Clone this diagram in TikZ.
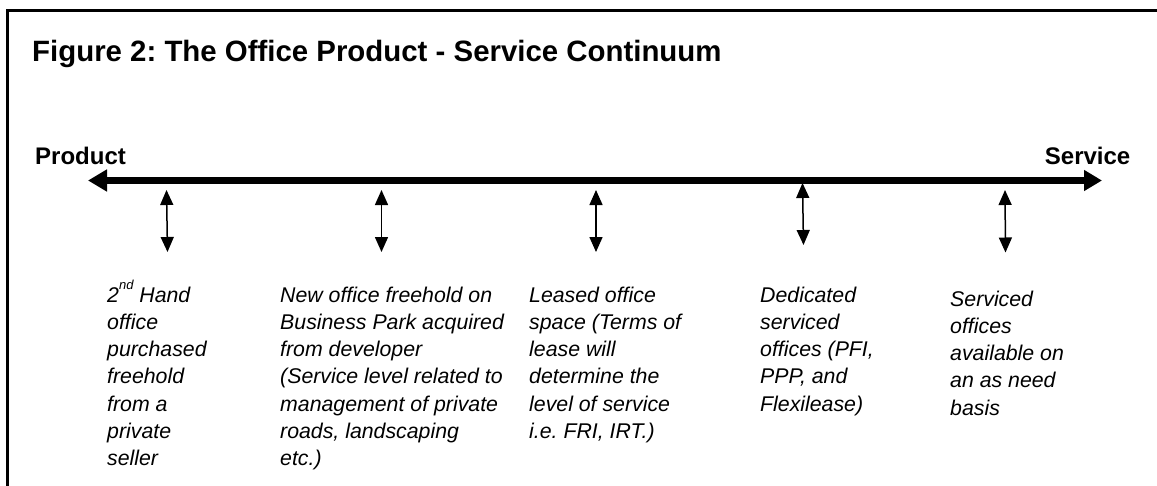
\documentclass[tikz,border=0pt]{standalone}
\usepackage{fontspec}
\setmainfont{Liberation Sans}
\usetikzlibrary{arrows.meta}
\frenchspacing
\newcommand{\stk}[1]{\begin{tabular}[t]{@{}l@{}}#1\end{tabular}}
\begin{document}
\begin{tikzpicture}[x=1pt,y=-1pt,
  frame/.style={line width=3pt,line join=miter},
  title/.style={font=\fontsize{29.4}{34}\selectfont\bfseries,inner sep=0pt,anchor=base west},
  endlabel/.style={font=\fontsize{24}{28}\selectfont\bfseries,inner sep=0pt},
  axis/.style={line width=7pt,{Triangle[length=19pt,width=21pt]}-{Triangle[length=18pt,width=20pt]}},
  link/.style={line width=1.5pt,{Triangle[length=15pt,width=13pt]}-{Triangle[length=15pt,width=13pt]}},
  desc/.style={font=\fontsize{21.3}{27.3}\selectfont\itshape,inner sep=0pt,anchor=base west}]
\useasboundingbox (0,0) rectangle (1157,485);
\fill[white] (0,0) rectangle (1157,485);
\draw[frame] (7.5,486) -- (7.5,10.7) -- (1158,10.7);
\node[title] (t) at (32,61.7) {Figure 2: The Office Product - Service Continuum};
\node[endlabel,anchor=base west] (prod) at (35,164) {Product};
\node[endlabel,anchor=base east] (serv) at (1130.5,164) {Service};
\coordinate (L) at (88,180.5);
\coordinate (R) at (1102,180.5);
\draw[axis] (L) -- (R);
\coordinate (a1) at (166.5,190); \coordinate (b1) at (167.5,252);
\coordinate (a2) at (381.5,190); \coordinate (b2) at (381.5,252);
\coordinate (a3) at (596,190);   \coordinate (b3) at (596,252);
\coordinate (a4) at (802.5,183); \coordinate (b4) at (803.5,245);
\coordinate (a5) at (1005,190);  \coordinate (b5) at (1005.5,252.5);
\foreach \i in {1,...,5} {\draw[link] (a\i) -- (b\i);}
\node[desc] (d1) at (107,302) {\stk{2\raisebox{1.1ex}{\fontsize{13}{13}\selectfont nd} Hand\\office\\purchased\\freehold\\from a\\private\\seller}};
\node[desc] (d2) at (280,302) {\stk{New office freehold on\\Business Park acquired\\from developer\\(Service level related to\\management of private\\roads, landscaping\\etc.)}};
\node[desc] (d3) at (529,302) {\stk{Leased office\\space (Terms of\\lease will\\determine the\\level of service\\i.e. FRI, IRT.)}};
\node[desc] (d4) at (760,302) {\stk{Dedicated\\serviced\\offices (PFI,\\PPP, and\\Flexilease)}};
\node[desc] (d5) at (950,306) {\stk{Serviced\\offices\\available on\\an as need\\basis}};
\end{tikzpicture}
\end{document}
